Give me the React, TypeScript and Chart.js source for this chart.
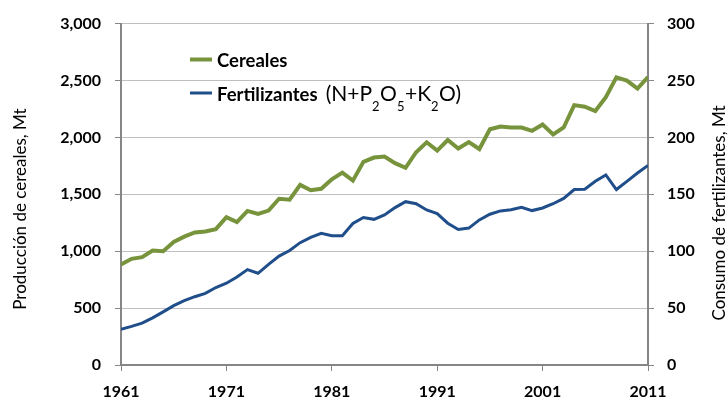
import React, { useEffect, useRef } from "react";
import { Chart, registerables } from "chart.js";

Chart.register(...registerables);

const years = [
  1961, 1962, 1963, 1964, 1965, 1966, 1967, 1968, 1969, 1970,
  1971, 1972, 1973, 1974, 1975, 1976, 1977, 1978, 1979, 1980,
  1981, 1982, 1983, 1984, 1985, 1986, 1987, 1988, 1989, 1990,
  1991, 1992, 1993, 1994, 1995, 1996, 1997, 1998, 1999, 2000,
  2001, 2002, 2003, 2004, 2005, 2006, 2007, 2008, 2009, 2010, 2011,
];

const cereales = [
  884, 933, 948, 1006, 1000, 1081, 1128, 1165, 1174, 1194,
  1299, 1255, 1354, 1328, 1357, 1461, 1452, 1583, 1536, 1548,
  1632, 1690, 1620, 1785, 1823, 1832, 1774, 1733, 1870, 1957,
  1884, 1977, 1902, 1959, 1898, 2072, 2096, 2087, 2087, 2058,
  2113, 2026, 2087, 2284, 2270, 2232, 2354, 2528, 2499, 2429, 2531,
];

const fertilizantes = [
  31.3, 33.9, 36.8, 41.4, 46.7, 52.2, 56.5, 60.0, 62.9, 68.1,
  71.9, 77.4, 83.8, 80.6, 88.4, 95.7, 100.6, 107.5, 112.2, 115.7,
  113.6, 113.6, 124.3, 129.6, 128.0, 131.9, 138.3, 143.5, 141.7, 136.2,
  133.0, 124.6, 119.1, 120.3, 127.5, 132.5, 135.4, 136.5, 138.6, 135.7,
  138.0, 141.7, 146.4, 154.2, 154.5, 161.4, 167.0, 154.2, 161.4, 168.7, 175.4,
];

const xTickYears = [1961, 1971, 1981, 1991, 2001, 2011];
const leftTitle = "Producción de cereales, Mt";
const rightTitle = "Consumo de fertilizantes, Mt";
const legendCereales = "Cereales";
const legendFertBold = "Fertilizantes";
// segments: [text, isSubscript]
const legendFertFormula: [string, boolean][] = [
  ["(N+P", false],
  ["2", true],
  ["O", false],
  ["5", true],
  ["+K", false],
  ["2", true],
  ["O)", false],
];

const GREEN = "#77933C";
const BLUE = "#1F4E8A";
const GRID = "#BFBFBF";
const AXIS = "#868686";
const FONT = "Lato, 'Open Sans', sans-serif";

const overlayPlugin = {
  id: "overlay",
  afterDraw(chart: any) {
    const ctx = chart.ctx;
    const area = chart.chartArea;
    ctx.save();
    ctx.fillStyle = "#000";
    // axis titles
    ctx.font = `17px ${FONT}`;
    ctx.textAlign = "center";
    ctx.textBaseline = "middle";
    ctx.save();
    ctx.translate(21, 209);
    ctx.rotate(-Math.PI / 2);
    ctx.fillText(leftTitle, 0, 0);
    ctx.restore();
    ctx.save();
    ctx.translate(720, 213);
    ctx.rotate(-Math.PI / 2);
    ctx.fillText(rightTitle, 0, 0);
    ctx.restore();

    // legend
    const lx0 = area.left + 69;
    const lx1 = lx0 + 22;
    const tx = lx1 + 5;
    ctx.lineCap = "butt";
    ctx.strokeStyle = GREEN;
    ctx.lineWidth = 4;
    ctx.beginPath();
    ctx.moveTo(lx0, 59.5);
    ctx.lineTo(lx1, 59.5);
    ctx.stroke();
    ctx.strokeStyle = BLUE;
    ctx.lineWidth = 3;
    ctx.beginPath();
    ctx.moveTo(lx0, 93);
    ctx.lineTo(lx1, 93);
    ctx.stroke();

    ctx.textAlign = "left";
    ctx.textBaseline = "alphabetic";
    ctx.font = `bold 18.5px ${FONT}`;
    ctx.fillText(legendCereales, tx, 67);
    ctx.fillText(legendFertBold, tx, 101);
    let x = tx + ctx.measureText(legendFertBold).width + 8;
    for (const [t, sub] of legendFertFormula) {
      ctx.font = sub ? `13px ${FONT}` : `21px ${FONT}`;
      ctx.fillText(t, x, sub ? 111 : 101);
      x += ctx.measureText(t).width + (sub ? 0.5 : 0);
    }
    ctx.restore();
  },
};

export default function App() {
  const ref = useRef<HTMLCanvasElement | null>(null);

  useEffect(() => {
    if (!ref.current) return;
    const tickFont = { family: FONT, size: 16, weight: "bold" };
    const chart = new Chart(ref.current, {
      type: "line",
      data: {
        datasets: [
          {
            label: legendCereales,
            data: years.map((y, i) => ({ x: y, y: cereales[i] })),
            borderColor: GREEN,
            backgroundColor: GREEN,
            borderWidth: 4,
            pointRadius: 0,
            tension: 0,
            yAxisID: "y",
          },
          {
            label: legendFertBold,
            data: years.map((y, i) => ({ x: y, y: fertilizantes[i] })),
            borderColor: BLUE,
            backgroundColor: BLUE,
            borderWidth: 3,
            pointRadius: 0,
            tension: 0,
            yAxisID: "y1",
          },
        ],
      },
      options: {
        responsive: false,
        animation: false,
        devicePixelRatio: 1,
        layout: { padding: { top: 20, left: 0, right: 0, bottom: 0 } },
        plugins: {
          legend: { display: false },
          tooltip: { enabled: false },
        },
        scales: {
          x: {
            type: "linear",
            min: 1961,
            max: 2011,
            afterBuildTicks: (scale: any) => {
              scale.ticks = xTickYears.map((v) => ({ value: v }));
            },
            afterFit: (scale: any) => {
              scale.height = 36;
            },
            grid: {
              drawOnChartArea: false,
              drawTicks: true,
              tickLength: 6,
              tickColor: AXIS,
              tickWidth: 1,
            },
            border: { display: true, color: AXIS, width: 2 },
            ticks: {
              autoSkip: false,
              maxRotation: 0,
              padding: 11,
              color: "#000",
              font: tickFont,
              callback: (v: any) => String(v),
            },
          },
          y: {
            type: "linear",
            position: "left",
            min: 0,
            max: 3000,
            afterFit: (scale: any) => {
              scale.width = 121;
            },
            grid: {
              color: GRID,
              lineWidth: 1,
              tickLength: 6,
              tickColor: AXIS,
              drawTicks: true,
            },
            border: { display: true, color: AXIS, width: 2 },
            ticks: {
              stepSize: 500,
              padding: 14,
              color: "#000",
              font: tickFont,
              callback: (v: any) => Number(v).toLocaleString("en-US"),
            },
          },
          y1: {
            type: "linear",
            position: "right",
            min: 0,
            max: 300,
            afterFit: (scale: any) => {
              scale.width = 80;
            },
            grid: {
              drawOnChartArea: false,
              tickLength: 6,
              tickColor: AXIS,
              drawTicks: true,
            },
            border: { display: true, color: AXIS, width: 2 },
            ticks: {
              stepSize: 50,
              padding: 13,
              color: "#000",
              font: tickFont,
              callback: (v: any) => String(v),
            },
          },
        },
      },
      plugins: [overlayPlugin],
    } as any);
    return () => chart.destroy();
  }, []);

  return (
    <div style={{ position: "absolute", left: 0, top: 0, width: 728, height: 401, background: "#fff" }}>
      <canvas ref={ref} width={728} height={401} style={{ display: "block", width: 728, height: 401 }} />
    </div>
  );
}
